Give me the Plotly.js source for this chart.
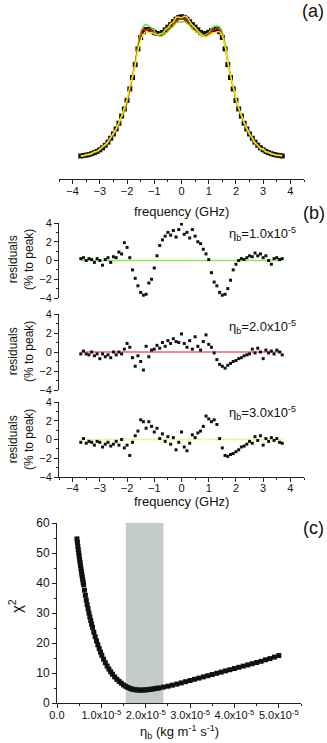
<!DOCTYPE html>
<html>
<head>
<meta charset="utf-8">
<script src="https://cdn.plot.ly/plotly-3.0.1.min.js"></script>
<style>
  html, body { margin: 0; padding: 0; background: #fff; }
  #chart { width: 327px; height: 743px; }
</style>
</head>
<body>
<div id="chart"></div>
<script>
// frequency grid (GHz), shared by the spectrum and the residuals
const freq = [
    -3.7, -3.6, -3.5, -3.4, -3.3, -3.2, -3.1, -3.0, -2.9, -2.8,
    -2.7, -2.6, -2.5, -2.4, -2.3, -2.2, -2.1, -2.0, -1.9, -1.8,
    -1.7, -1.6, -1.5, -1.4, -1.3, -1.2, -1.1, -1.0, -0.9, -0.8,
    -0.7, -0.6, -0.5, -0.4, -0.3, -0.2, -0.1, 0.0, 0.1, 0.2,
    0.3, 0.4, 0.5, 0.6, 0.7, 0.8, 0.9, 1.0, 1.1, 1.2,
    1.3, 1.4, 1.5, 1.6, 1.7, 1.8, 1.9, 2.0, 2.1, 2.2,
    2.3, 2.4, 2.5, 2.6, 2.7, 2.8, 2.9, 3.0, 3.1, 3.2,
    3.3, 3.4, 3.5, 3.6, 3.7
];

// measured spectrum, normalised to peak
const spectrum = [
    0.021, 0.024, 0.027, 0.031, 0.037, 0.044, 0.053, 0.064, 0.078, 0.096,
    0.118, 0.145, 0.175, 0.21, 0.25, 0.30, 0.35, 0.41, 0.49, 0.57,
    0.66, 0.77, 0.85, 0.89, 0.905, 0.905, 0.897, 0.886, 0.878, 0.876,
    0.885, 0.903, 0.922, 0.94, 0.96, 0.978, 0.99, 0.995, 0.99, 0.978,
    0.96, 0.94, 0.922, 0.903, 0.885, 0.876, 0.878, 0.886, 0.897, 0.905,
    0.905, 0.89, 0.85, 0.77, 0.66, 0.57, 0.49, 0.41, 0.35, 0.30,
    0.25, 0.21, 0.175, 0.145, 0.118, 0.096, 0.078, 0.064, 0.053, 0.044,
    0.037, 0.031, 0.027, 0.024, 0.021
];

// residuals (% to peak) for the three viscosities
const resid1 = [
    0.2, 0.3, 0.0, 0.2, 0.1, -0.2, 0.2, 0.0, -0.5, 0.1,
    0.3, -0.2, 0.4, 0.3, 0.9, 0.7, 1.9, 1.4, 0.3, -1.0,
    -1.9, -2.7, -3.4, -3.7, -3.6, -2.4, -2.0, -0.8, 0.5, 1.6,
    2.2, 2.6, 3.0, 2.7, 3.2, 2.5, 3.3, 3.9, 2.8, 3.0,
    2.4, 3.3, 2.6, 2.0, 1.8, 1.2, 0.7, 0.1, -1.3, -2.3,
    -2.7, -3.4, -3.7, -3.6, -3.0, -2.1, -1.0, -0.4, 0.0, 0.2,
    0.1, 0.3, 0.5, 0.4, 0.8, 0.5, 0.7, 0.3, 0.5, 0.0,
    -0.4, 0.2, 0.3, 0.1, 0.2
];
const resid2 = [
    -0.2, 0.1, -0.2, -0.3, 0.0, -0.4, -0.2, -0.7, -0.2, -0.5,
    -0.3, -0.6, 0.0, -0.3, 0.0, -0.2, 0.3, 0.9, 0.5, -0.6,
    -1.5, -0.4, -1.0, -1.9, 0.6, -0.5, 0.2, 0.3, 0.7, 0.4,
    1.0, 0.6, 1.2, 0.9, 1.4, 1.1, 1.0, 1.9, 0.9, 0.5,
    1.2, 0.3, 1.6, 0.6, 0.2, 1.1, 1.8, 0.8, 0.5, -0.1,
    -0.8, -1.3, -1.5, -1.7, -1.4, -1.2, -1.0, -0.9, -0.7, -0.6,
    -0.4, -0.3, -0.2, 0.3, -0.1, 0.4, 0.0, -0.7, 0.2, -0.1,
    0.1, -0.2, 0.2, 0.0, -0.3
];
const resid3 = [
    -0.3, 0.1, -0.4, -0.2, -0.3, -0.6, -0.2, -0.3, -0.8, -0.5,
    -0.3, -0.7, -0.5, -0.2, -0.6, 0.0, -0.9, -0.6, -1.7, -0.3,
    0.4, 0.9, 2.1, 1.9, 1.2, 1.9, 1.4, 0.8, 1.2, 0.1,
    0.6, -0.2, 0.3, -0.5, 0.2, -1.1, -0.3, 0.8, -0.8, -1.2,
    -0.4, 0.5, 0.2, 0.7, 0.9, 1.4, 2.5, 2.2, 1.9, 2.1,
    1.6, 0.1, -0.9, -1.7, -1.8, -1.6, -1.5, -1.3, -1.1, -0.8,
    -0.7, -0.5, -0.2, -0.4, 0.3, -0.1, 0.4, -0.6, 0.1, -0.2,
    0.2, -0.1, 0.1, -0.3, -0.4
];
const etaLabels = ["1.0", "2.0", "3.0"];
const fitColors = ["#66e01c", "#e8201c", "#f2f000"];
const zeroColors = ["#8ee85c", "#f06464", "#f4f48c"];

// chi-square scan, eta in units of 1e-5 kg m^-1 s^-1
const etaScan = [
    0.45, 0.46, 0.47, 0.48, 0.49, 0.50, 0.51, 0.52, 0.53, 0.54,
    0.55, 0.56, 0.57, 0.58, 0.59, 0.60, 0.62, 0.64, 0.66, 0.68,
    0.70, 0.72, 0.74, 0.76, 0.78, 0.80, 0.83, 0.86, 0.89, 0.92,
    0.95, 0.98, 1.01, 1.05, 1.09, 1.13, 1.17, 1.21, 1.25, 1.30,
    1.35, 1.40, 1.45, 1.50, 1.55, 1.60, 1.65, 1.70, 1.75, 1.80,
    1.85, 1.90, 1.95, 2.00, 2.05, 2.10, 2.15, 2.20, 2.25, 2.30,
    2.40, 2.50, 2.60, 2.70, 2.80, 2.90, 3.00, 3.10, 3.20, 3.30,
    3.40, 3.50, 3.60, 3.70, 3.80, 3.90, 4.00, 4.10, 4.20, 4.30,
    4.40, 4.50, 4.60, 4.70, 4.80, 4.90, 5.00
];
const chi2 = [
    54.7, 53.5, 52.3, 51.1, 50.0, 48.9, 47.8, 46.8, 45.8, 44.8,
    43.8, 42.9, 42.0, 41.1, 40.2, 39.4, 37.6, 35.9, 34.3, 32.8,
    31.4, 30.0, 28.7, 27.5, 26.3, 25.2, 23.6, 22.1, 20.7, 19.4,
    18.2, 17.0, 15.9, 14.6, 13.4, 12.3, 11.3, 10.4, 9.6, 8.7,
    7.9, 7.2, 6.6, 6.0, 5.55, 5.15, 4.85, 4.6, 4.45, 4.35,
    4.3, 4.3, 4.32, 4.38, 4.45, 4.55, 4.65, 4.77, 4.9, 5.03,
    5.3, 5.6, 5.95, 6.3, 6.7, 7.1, 7.5, 7.9, 8.3, 8.7,
    9.1, 9.5, 9.9, 10.3, 10.7, 11.1, 11.5, 11.9, 12.3, 12.7,
    13.1, 13.5, 13.9, 14.4, 14.8, 15.3, 15.8
];
const bestBand = [1.55, 2.4];
const etaTicks = [0, 1, 2, 3, 4, 5];
const etaTickText = ["0.0", "1.0x10<sup>-5</sup>", "2.0x10<sup>-5</sup>",
    "3.0x10<sup>-5</sup>", "4.0x10<sup>-5</sup>", "5.0x10<sup>-5</sup>"];

const FONT = "Liberation Sans, Arial, sans-serif";
const W = 327, H = 743;

// pixel helpers, the layout was measured in pixels off the figure
function px(x) { return x / W; }
function py(y) { return 1 - y / H; }

function axis(extra) {
    return Object.assign({
        showline: true,
        linecolor: "#222",
        linewidth: 1,
        ticks: "outside",
        ticklen: 4,
        tickwidth: 1,
        tickcolor: "#222",
        tickangle: 0,
        showgrid: false,
        zeroline: false,
        fixedrange: true,
        tickfont: { family: FONT, size: 11, color: "#111" },
    }, extra);
}

const fitCurves = [resid1, resid2, resid3].map(r => spectrum.map((v, i) => v - r[i] / 100));

const data = [];

// (a) spectrum + fits
data.push({
    x: freq, y: spectrum, xaxis: "x", yaxis: "y",
    mode: "markers", type: "scatter",
    marker: { symbol: "square", size: 5, color: "#111" },
});
for (let i = 0; i < 3; i++) {
    data.push({
        x: freq, y: fitCurves[i], xaxis: "x", yaxis: "y",
        mode: "lines", type: "scatter",
        line: { color: fitColors[i], width: 1.4, shape: "spline" },
    });
}

// (b) residuals
const residAxes = ["y2", "y3", "y4"];
[resid1, resid2, resid3].forEach((r, i) => {
    data.push({
        x: [freq[0], freq[freq.length - 1]], y: [0, 0],
        xaxis: "x2", yaxis: residAxes[i],
        mode: "lines", type: "scatter",
        line: { color: zeroColors[i], width: 1.3 },
    });
    data.push({
        x: freq, y: r, xaxis: "x2", yaxis: residAxes[i],
        mode: "markers", type: "scatter",
        marker: { symbol: "square", size: 3, color: "#111" },
    });
});

// (c) chi2
data.push({
    x: etaScan, y: chi2, xaxis: "x3", yaxis: "y5",
    mode: "markers", type: "scatter",
    marker: { symbol: "square", size: 5, color: "#111" },
});

const freqDomain = [px(59), px(304)];
const residAxis = (top, bottom) => axis({
    domain: [py(bottom), py(top)], anchor: "x2",
    range: [-4, 4], dtick: 2, tick0: 0,
    minor: { dtick: 1, ticklen: 2, ticks: "outside", tickcolor: "#222" },
});

const annotations = [];
function label(text, x, y, size, extra) {
    annotations.push(Object.assign({
        text: text, x: px(x), y: py(y), xref: "paper", yref: "paper",
        showarrow: false, xanchor: "center", yanchor: "middle",
        font: { family: FONT, size: size, color: "#111" },
    }, extra || {}));
}

label("(a)", 313, 11, 18);
label("(b)", 314, 213, 18);
label("(c)", 313, 528, 18);
label("frequency (GHz)", 181, 211, 13);
label("frequency (GHz)", 181, 501, 13);
label("η<sub>b</sub> (kg m<sup>-1</sup> s<sup>-1</sup>)", 179, 732, 13);
label("χ<sup>2</sup>", 15, 606, 15, { textangle: -90 });
const residCenters = [260, 352, 440];
const etaLabelY = [234, 327, 413];
residCenters.forEach((c, i) => {
    label("residuals<br>(% to peak)", 21, c, 12, { textangle: -90 });
    label("η<sub>b</sub>=" + etaLabels[i] + "x10<sup>-5</sup>", 227, etaLabelY[i], 13, { xanchor: "left" });
});

var layout = {
    width: W,
    height: H,
    margin: { l: 0, r: 0, t: 0, b: 0 },
    paper_bgcolor: "#fff",
    plot_bgcolor: "rgba(0,0,0,0)",
    showlegend: false,
    font: { family: FONT, color: "#111" },
    xaxis: axis({
        domain: freqDomain, anchor: "y", range: [-4.5, 4.5], dtick: 1, tick0: 0,
        ticklabelstandoff: -2,
        minor: { dtick: 0.5, ticklen: 2, ticks: "outside", tickcolor: "#222" },
    }),
    yaxis: { domain: [py(179), py(5)], range: [-0.14, 1.077], visible: false, fixedrange: true },
    xaxis2: axis({
        domain: freqDomain, anchor: "y4", range: [-4.5, 4.5], dtick: 1, tick0: 0,
        ticklabelstandoff: -3,
        minor: { dtick: 0.5, ticklen: 2, ticks: "outside", tickcolor: "#222" },
    }),
    yaxis2: residAxis(223, 298),
    yaxis3: residAxis(314, 390),
    yaxis4: residAxis(402, 477),
    xaxis3: axis({
        domain: [px(57), px(301)], anchor: "y5", range: [0, 5.5],
        tickmode: "array", tickvals: etaTicks, ticktext: etaTickText,
        ticklabelstandoff: -2,
        minor: { tickmode: "linear", tick0: 0, dtick: 0.5, ticklen: 2, ticks: "outside", tickcolor: "#222" },
    }),
    yaxis5: axis({
        domain: [py(703), py(523)], anchor: "x3", range: [0, 60], dtick: 10, tick0: 0,
        tickfont: { family: FONT, size: 12, color: "#111" },
        minor: { dtick: 5, ticklen: 2, ticks: "outside", tickcolor: "#222" },
    }),
    shapes: [{
        type: "rect", xref: "x3", yref: "y5", layer: "below",
        x0: bestBand[0], x1: bestBand[1], y0: 0, y1: 60,
        fillcolor: "#c3cccb", line: { width: 0 },
    }],
    annotations: annotations,
};

Plotly.newPlot("chart", data, layout, { displayModeBar: false, staticPlot: true });
</script>
</body>
</html>
